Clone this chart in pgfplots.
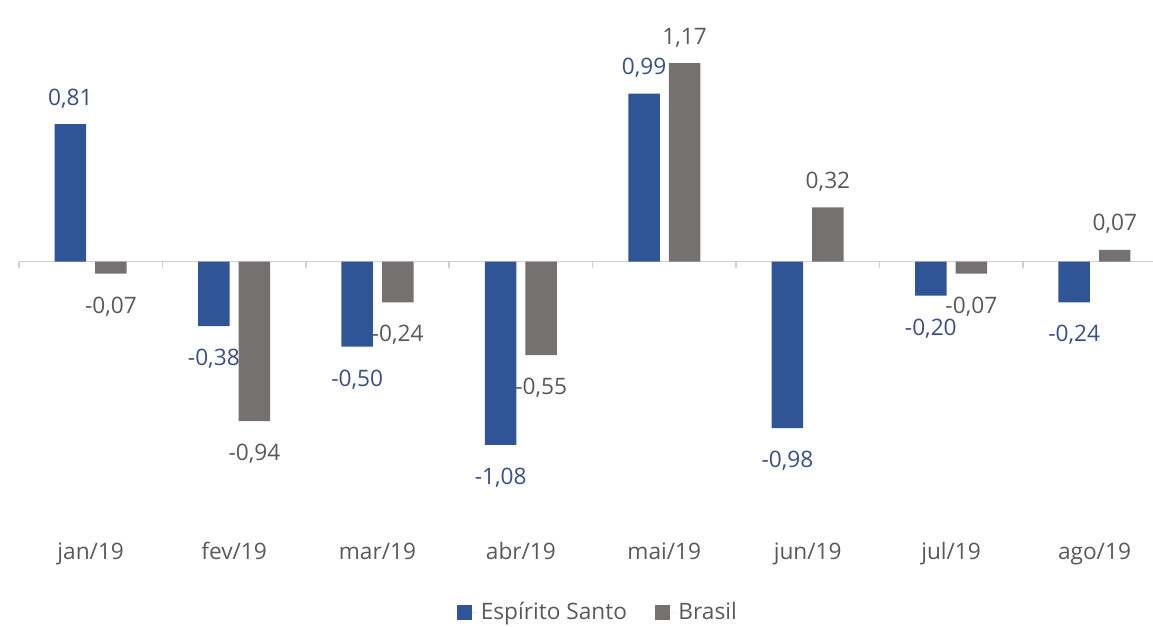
\documentclass[border=0pt]{standalone}
\usepackage{pgfplots}
\pgfplotsset{compat=1.18}
\usepackage{fontspec}
\setmainfont{Open Sans}
\definecolor{esblue}{HTML}{2F5597}
\definecolor{brgray}{HTML}{767171}
\definecolor{eslab}{HTML}{3B4F82}
\definecolor{txtgray}{HTML}{595959}
\definecolor{axgray}{HTML}{D0D0D0}
\begin{document}
\begin{tikzpicture}[x=1pt,y=1pt]
\path[use as bounding box] (-14.25pt,-72pt) rectangle (850.5pt,397.5pt);
\begin{axis}[
  at={(0,0)}, anchor=south west,
  scale only axis, width=850.5pt, height=397.5pt,
  xmin=-0.5, xmax=7.408, ymin=-1.581, ymax=1.542,
  axis y line=none,
  axis x line*=bottom,
  x axis line style={draw=none},
  xtick={0,...,7},
  xticklabels={jan/19,fev/19,mar/19,abr/19,mai/19,jun/19,jul/19,ago/19},
  major tick length=0pt,
  xticklabel style={anchor=base, yshift=-22pt, font=\fontsize{17}{20}\selectfont, text=txtgray},
  ybar, bar width=23.6pt,
  clip=false,
  /pgf/number format/.cd, use comma, fixed, fixed zerofill, precision=2, assume math mode=true,
  /pgfplots/.cd,
  nodes near coords,
  visualization depends on={y \as \rawy},
  every node near coord/.append style={anchor=base, font=\fontsize{17}{20}\selectfont,
     yshift={\rawy>0 ? 14.25 : -29.6}},
  legend columns=2,
  legend style={draw=none, fill=none, at={(0.511,-0.155)}, anchor=center,
     font=\fontsize{17}{20}\selectfont, text=txtgray,
     /tikz/every even column/.append style={column sep=19pt}},
  legend image code/.code={\fill[#1] (0pt,-5.6pt) rectangle (11.25pt,5.6pt); \path (0pt,0pt) -- (15.5pt,0pt);},
]
\draw[axgray, line width=1.1pt] (axis cs:-0.5,0) -- (axis cs:7.408,0);
\pgfplotsinvokeforeach{-0.5,0.5,...,6.5}{
  \draw[axgray, line width=1.1pt] (axis cs:#1,0) -- ++(0pt,-5pt);
}
\addplot[fill=esblue, draw=none, bar shift=-15.2pt, every node near coord/.append style={text=eslab}]
  coordinates {(0,0.81) (1,-0.38) (2,-0.50) (3,-1.08) (4,0.99) (5,-0.98) (6,-0.20) (7,-0.24)};
\addlegendentry{Espírito Santo}
\addplot[fill=brgray, draw=none, bar shift=15.2pt, every node near coord/.append style={text=txtgray}]
  coordinates {(0,-0.07) (1,-0.94) (2,-0.24) (3,-0.55) (4,1.17) (5,0.32) (6,-0.07) (7,0.07)};
\addlegendentry{Brasil}
\end{axis}
\end{tikzpicture}
\end{document}
